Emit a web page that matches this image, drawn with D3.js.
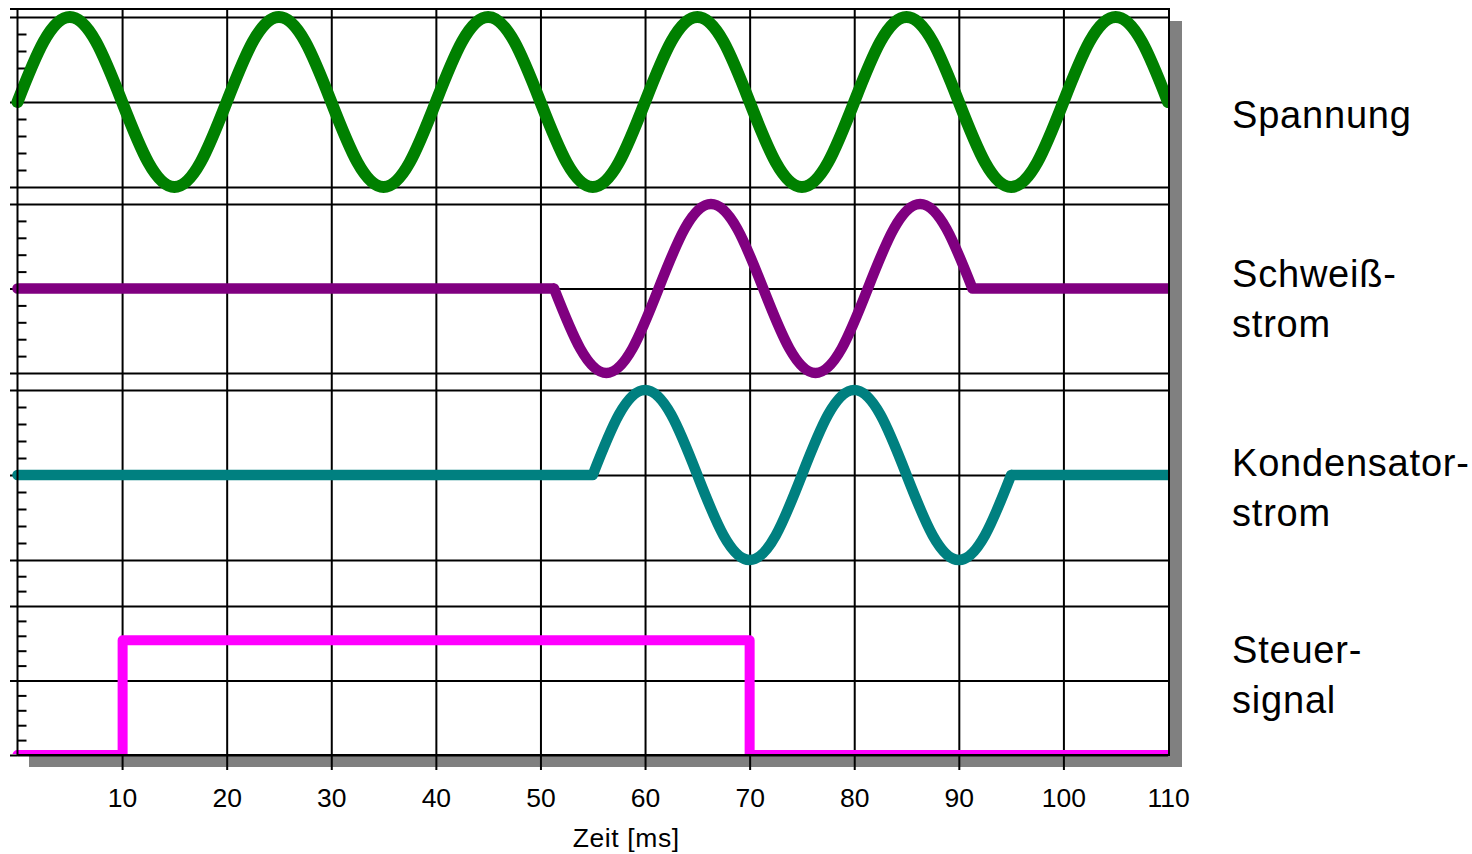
<!DOCTYPE html>
<html>
<head>
<meta charset="utf-8">
<script src="https://cdn.jsdelivr.net/npm/d3@7"></script>
<style>
  html, body { margin: 0; padding: 0; background: #fff; }
  svg { display: block; font-family: "Liberation Sans", Arial, sans-serif; }
</style>
</head>
<body>
<svg id="chart" width="1472" height="854"></svg>
<script>
// ---------------- data ----------------
const xTicks = [10, 20, 30, 40, 50, 60, 70, 80, 90, 100, 110];
const xTitle = "Zeit [ms]";

// Spannung: samples every 2.5 ms
const spannungT = [0, 2.5, 5, 7.5, 10, 12.5, 15, 17.5, 20, 22.5, 25, 27.5, 30, 32.5, 35, 37.5,
  40, 42.5, 45, 47.5, 50, 52.5, 55, 57.5, 60, 62.5, 65, 67.5, 70, 72.5, 75, 77.5,
  80, 82.5, 85, 87.5, 90, 92.5, 95, 97.5, 100, 102.5, 105, 107.5, 110];
const spannungV = [0, 0.71, 1, 0.71, 0, -0.71, -1, -0.71, 0, 0.71, 1, 0.71, 0, -0.71, -1, -0.71,
  0, 0.71, 1, 0.71, 0, -0.71, -1, -0.71, 0, 0.71, 1, 0.71, 0, -0.71, -1, -0.71,
  0, 0.71, 1, 0.71, 0, -0.71, -1, -0.71, 0, 0.71, 1, 0.71, 0];

// Schweißstrom
const schweissT = [0, 51.3, 53.8, 56.3, 58.8, 61.3, 63.8, 66.3, 68.8, 71.3, 73.8, 76.3, 78.8, 81.3, 83.8, 86.3, 88.8, 91.3, 110];
const schweissV = [0, 0, -0.71, -1, -0.71, 0, 0.71, 1, 0.71, 0, -0.71, -1, -0.71, 0, 0.71, 1, 0.71, 0, 0];

// Kondensatorstrom
const kondT = [0, 55, 57.5, 60, 62.5, 65, 67.5, 70, 72.5, 75, 77.5, 80, 82.5, 85, 87.5, 90, 92.5, 95, 110];
const kondV = [0, 0, 0.71, 1, 0.71, 0, -0.71, -1, -0.71, 0, 0.71, 1, 0.71, 0, -0.71, -1, -0.71, 0, 0];

// Steuersignal
const steuerT = [0, 10.05, 10.05, 70, 70, 110];
const steuerV = [0, 0, 0.77, 0.77, 0, 0];

const labels = [["Spannung"], ["Schweiß-", "strom"], ["Kondensator-", "strom"], ["Steuer-", "signal"]];

// ---------------- layout ----------------
const svg = d3.select("#chart");
const L = 17.5, R = 1168, T = 9, B = 755;
const x = d3.scaleLinear().domain([0, 110]).range([L, R]);

const panels = [
  { domain: [-1, 1], range: [187, 17], grid: [-1, 0, 1], minor: [-0.8, -0.6, -0.4, -0.2, 0.2, 0.4, 0.6, 0.8],
    t: spannungT, v: spannungV, kind: "sine", color: "#008000", width: 12, labelY: 128 },
  { domain: [-1, 1], range: [373, 204], grid: [-1, 0, 1], minor: [-0.8, -0.6, -0.4, -0.2, 0.2, 0.4, 0.6, 0.8],
    t: schweissT, v: schweissV, kind: "flatSine", color: "#800080", width: 10.5, labelY: 287 },
  { domain: [-1, 1], range: [560, 390], grid: [-1, 0, 1], minor: [-0.8, -0.6, -0.4, -0.2, 0.2, 0.4, 0.6, 0.8],
    t: kondT, v: kondV, kind: "flatSine", color: "#008080", width: 10.5, labelY: 476 },
  { domain: [0, 1], range: [755, 606], grid: [0, 0.5, 1], minor: [0.1, 0.2, 0.3, 0.4, 0.6, 0.7, 0.8, 0.9, 1.1, 1.2],
    t: steuerT, v: steuerV, kind: "step", color: "#ff00ff", width: 10, labelY: 663 }
];
panels.forEach(p => p.y = d3.scaleLinear().domain(p.domain).range(p.range));

// shadow + plot background
svg.append("rect").attr("x", 29).attr("y", 21).attr("width", 1153).attr("height", 746).attr("fill", "#808080");
svg.append("rect").attr("x", L).attr("y", T).attr("width", R - L + 1).attr("height", B - T).attr("fill", "#fff");

// vertical grid lines
svg.append("g").attr("transform", `translate(0,${B})`)
  .call(d3.axisBottom(x).tickValues(xTicks.slice(0, -1)).tickSizeInner(-(B - T)).tickSizeOuter(0).tickFormat(""))
  .call(g => g.select(".domain").remove())
  .call(g => g.selectAll("line").attr("stroke", "#000").attr("stroke-width", 2));

// horizontal grid lines, left ticks, minor ticks
panels.forEach(p => {
  svg.append("g").attr("transform", `translate(${L},0)`)
    .call(d3.axisLeft(p.y).tickValues(p.grid).tickSizeInner(-(R - L)).tickSizeOuter(0).tickFormat(""))
    .call(g => g.select(".domain").remove())
    .call(g => g.selectAll("line").attr("stroke", "#000").attr("stroke-width", 2));
  svg.append("g").attr("class", "majorTicks").attr("transform", `translate(${L},0)`)
    .call(d3.axisLeft(p.y).tickValues(p.grid).tickSizeInner(7.5).tickSizeOuter(0).tickFormat(""))
    .call(g => g.select(".domain").remove())
    .call(g => g.selectAll("line").attr("stroke", "#000").attr("stroke-width", 2));
  svg.append("g").attr("class", "minorTicks").attr("transform", `translate(${L},0)`)
    .call(d3.axisLeft(p.y).tickValues(p.minor).tickSizeInner(-9).tickSizeOuter(0).tickFormat(""))
    .call(g => g.select(".domain").remove())
    .call(g => g.selectAll("line").attr("stroke", "#000").attr("stroke-width", 2));
});

// clip for series
svg.append("defs").append("clipPath").attr("id", "clip")
  .append("rect").attr("x", 0).attr("y", T).attr("width", R).attr("height", B - T - 1);

const lineLin = d3.line().x(d => d[0]).y(d => d[1]);
const lineNat = d3.line().x(d => d[0]).y(d => d[1]).curve(d3.curveNatural);

const series = svg.append("g").attr("clip-path", "url(#clip)");
panels.forEach(p => {
  const pts = p.t.map((t, i) => [x(t), p.y(p.v[i])]);
  let dStr;
  if (p.kind === "sine") dStr = lineNat(pts);
  else if (p.kind === "flatSine") {
    const n = pts.length;
    dStr = lineLin(pts.slice(0, 2)) + lineNat(pts.slice(1, n - 1)) + lineLin(pts.slice(n - 2));
  } else dStr = lineLin(pts);
  series.append("path").attr("d", dStr).attr("fill", "none")
    .attr("stroke", p.color).attr("stroke-width", p.width)
    .attr("stroke-linecap", "round").attr("stroke-linejoin", "round");
});

// frame
svg.append("rect").attr("x", L).attr("y", T).attr("width", R + 1 - L).attr("height", B - T)
  .attr("fill", "none").attr("stroke", "#000").attr("stroke-width", 2);
svg.append("line").attr("x1", 10).attr("x2", L).attr("y1", T).attr("y2", T).attr("stroke", "#000").attr("stroke-width", 2);

// x axis ticks + labels
svg.append("g").attr("transform", `translate(0,${B})`)
  .call(d3.axisBottom(x).tickValues(xTicks).tickSizeInner(15).tickSizeOuter(0).tickPadding(18).tickFormat(d3.format("d")))
  .call(g => g.select(".domain").remove())
  .call(g => g.selectAll("line").attr("stroke", "#000").attr("stroke-width", 2).attr("display", d => d === 110 ? "none" : null))
  .call(g => g.selectAll("text").attr("fill", "#000").attr("font-size", 26.5)
    .attr("font-family", "'Liberation Sans', Arial, sans-serif"));

svg.append("text").attr("x", x(58.2)).attr("y", 847).attr("text-anchor", "middle")
  .attr("font-size", 26.5).attr("letter-spacing", 0.6).attr("fill", "#000").text(xTitle);

// right-hand labels
panels.forEach((p, i) => {
  const t = svg.append("text").attr("x", 1232).attr("y", p.labelY).attr("font-size", 38)
    .attr("letter-spacing", 0.8).attr("fill", "#000");
  labels[i].forEach((s, j) => t.append("tspan").attr("x", 1232).attr("dy", j === 0 ? 0 : 50).text(s));
});
</script>
</body>
</html>
